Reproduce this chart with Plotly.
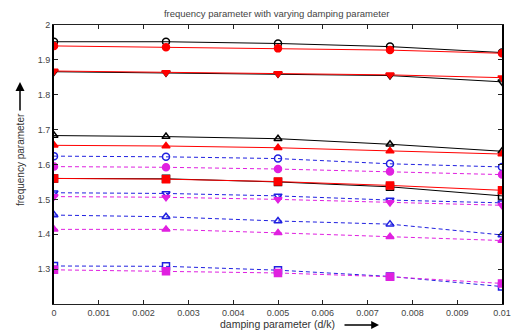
import plotly.graph_objects as go

x_vals = [0, 0.0025, 0.005, 0.0075, 0.01]

black_circle = [1.952, 1.952, 1.947, 1.938, 1.921]
red_circle = [1.940, 1.936, 1.933, 1.928, 1.919]
black_down = [1.866, 1.863, 1.860, 1.855, 1.837]
red_down = [1.868, 1.864, 1.861, 1.857, 1.849]
black_up = [1.683, 1.680, 1.674, 1.658, 1.638]
red_up = [1.655, 1.653, 1.648, 1.639, 1.630]
black_square = [1.560, 1.559, 1.550, 1.536, 1.510]
red_square = [1.560, 1.558, 1.551, 1.540, 1.526]
blue_circle = [1.624, 1.622, 1.617, 1.602, 1.593]
magenta_circle = [1.594, 1.592, 1.587, 1.580, 1.571]
blue_down = [1.519, 1.517, 1.510, 1.498, 1.490]
magenta_down = [1.508, 1.506, 1.500, 1.491, 1.483]
blue_up = [1.455, 1.450, 1.438, 1.429, 1.398]
magenta_up = [1.414, 1.414, 1.404, 1.393, 1.382]
blue_square = [1.309, 1.308, 1.297, 1.279, 1.250]
magenta_square = [1.298, 1.294, 1.289, 1.278, 1.259]

x_ticks = [0, 0.001, 0.002, 0.003, 0.004, 0.005, 0.006, 0.007, 0.008, 0.009, 0.01]
x_ticktext = ["0", "0.001", "0.002", "0.003", "0.004", "0.005", "0.006", "0.007", "0.008", "0.009", "0.01"]
y_ticks = [1.3, 1.4, 1.5, 1.6, 1.7, 1.8, 1.9, 2.0]
y_ticktext = ["1.3", "1.4", "1.5", "1.6", "1.7", "1.8", "1.9", "2"]

fig = go.Figure()

# (values, color, dash, marker symbol)
series = [
    (blue_square, "#2020e0", "dash", "square-open"),
    (magenta_square, "#e020e0", "dash", "square"),
    (blue_up, "#2020e0", "dash", "triangle-up-open"),
    (magenta_up, "#e020e0", "dash", "triangle-up"),
    (blue_down, "#2020e0", "dash", "triangle-down-open"),
    (magenta_down, "#e020e0", "dash", "triangle-down"),
    (blue_circle, "#2020e0", "dash", "circle-open"),
    (magenta_circle, "#e020e0", "dash", "circle"),
    (black_square, "#000000", "solid", "square-open"),
    (red_square, "#ff0000", "solid", "square"),
    (black_up, "#000000", "solid", "triangle-up-open"),
    (red_up, "#ff0000", "solid", "triangle-up"),
    (black_down, "#000000", "solid", "triangle-down-open"),
    (red_down, "#ff0000", "solid", "triangle-down"),
    (black_circle, "#000000", "solid", "circle-open"),
    (red_circle, "#ff0000", "solid", "circle"),
]

for vals, col, dash, sym in series:
    fig.add_trace(go.Scatter(
        x=x_vals, y=vals, mode="lines+markers",
        line=dict(color=col, width=1, dash=dash if dash == "solid" else "4px,3px"),
        marker=dict(symbol=sym, size=7, color=col, line=dict(color=col, width=1.5)),
        showlegend=False,
    ))

font = dict(family="Liberation Sans, Arial, sans-serif", size=9, color="#444444")

fig.update_layout(
    width=532, height=334,
    margin=dict(l=54, r=30, t=25, b=30),
    plot_bgcolor="white", paper_bgcolor="white",
    font=font,
    title=dict(text="frequency parameter with varying damping parameter",
               x=0.52, xanchor="center", y=1 - 14 / 334, yanchor="middle",
               font=dict(family="Liberation Sans, Arial, sans-serif", size=9.5, color="#444444")),
    xaxis=dict(range=[0, 0.01], tickvals=x_ticks, ticktext=x_ticktext,
               showgrid=False, zeroline=False, showline=True, linecolor="#222222", linewidth=1,
               mirror="ticks", ticks="inside", ticklen=4, tickcolor="#222222", tickfont=font),
    yaxis=dict(range=[1.2, 2.0], tickvals=y_ticks, ticktext=y_ticktext,
               showgrid=False, zeroline=False, showline=True, linecolor="#000000", linewidth=2,
               mirror="ticks", ticks="inside", ticklen=4, tickcolor="#222222", tickfont=font),
)

def px(xp):
    return (xp - 54) / 448

def py(yp):
    return (304 - yp) / 279

fig.add_annotation(text="frequency parameter", textangle=-90, x=px(20), y=py(160),
                   xref="x domain", yref="y domain", showarrow=False,
                   xanchor="center", yanchor="middle",
                   font=dict(family="Liberation Sans, Arial, sans-serif", size=10, color="#333333"))
fig.add_annotation(x=px(20), y=py(82), ax=px(20), ay=py(112), xref="x domain", yref="y domain",
                   axref="x domain", ayref="y domain", text="", showarrow=True,
                   arrowhead=2, arrowsize=1.2, arrowwidth=1.5, arrowcolor="#000000")
fig.add_annotation(text="damping parameter (d/k)", x=px(277), y=py(324),
                   xref="x domain", yref="y domain", showarrow=False,
                   xanchor="center", yanchor="middle",
                   font=dict(family="Liberation Sans, Arial, sans-serif", size=10.5, color="#333333"))
fig.add_annotation(x=px(379), y=py(325), ax=px(343), ay=py(325), xref="x domain", yref="y domain",
                   axref="x domain", ayref="y domain", text="", showarrow=True,
                   arrowhead=2, arrowsize=1.2, arrowwidth=1.3, arrowcolor="#000000")

fig.write_html("out.html")
